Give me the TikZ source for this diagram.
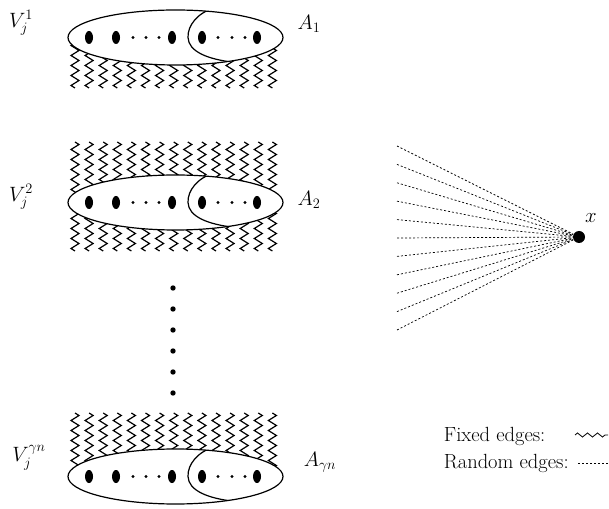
\documentclass[tikz,border=0pt]{standalone}
\usepackage{amsmath}
\usepackage{amssymb}
\usetikzlibrary{decorations.pathmorphing}

\begin{document}
\begin{tikzpicture}[x=1pt,y=1pt,line width=1.2pt,
  every node/.style={font=\fontsize{20.5}{25}\selectfont},
  fixed/.style={decorate,decoration={zigzag,segment length=10pt,amplitude=4pt},line width=1.2pt},
  fixedleg/.style={decorate,decoration={zigzag,segment length=10pt,amplitude=2pt},line width=0.8pt},
  random/.style={dash pattern=on 2pt off 2pt,line width=0.7pt}]
\useasboundingbox (0,0) rectangle (609,508);
\foreach \cy/\lo/\hi in {470.5/50.5/0,305.5/48.5/60.5,31.5/0/63.5}{
  \begin{scope}[shift={(175.5,\cy)}]
    \foreach \k in {0,...,14}{
      \draw[fixed] (-100.5+\k*14.1,-\lo) -- (-100.5+\k*14.1,0);
      \draw[fixed] (-100.5+\k*14.1,\hi) -- (-100.5+\k*14.1,0);
    }
    \filldraw[fill=white] (0,0) ellipse [x radius=107.5,y radius=27.5];
    \begin{scope}
      \clip (0,0) ellipse [x radius=107.5,y radius=27.5];
      \draw (40,30) .. controls (22,25) and (12,12) .. (12.5,0)
        .. controls (13,-14) and (32,-22) .. (60,-25);
    \end{scope}
    \foreach \dx in {-86.5,-59.5,-3.5,26.5,81.5}
      \fill (\dx,0) ellipse [x radius=4,y radius=6.5];
    \foreach \dx in {-42.5,-29.5,-16.5,42.5,56.5,69.5}
      \fill (\dx,0) circle (1.6);
  \end{scope}
}
\foreach \k in {0,...,5}
  \fill (173,220-\k*21) circle (2.7);
\node (V1) at (21,485) {$V_j^1$};
\node (A1) at (309,484) {$A_1$};
\node (V2) at (21,311) {$V_j^2$};
\node (A2) at (309,308) {$A_2$};
\node (V3) at (29,50) {$V_j^{\gamma n}$};
\node (A3) at (320,46) {$A_{\gamma n}$};
\node[circle,fill,inner sep=0pt,minimum size=12pt] (x) at (579,271) {};
\node (xlab) at (591,290) {$x$};
\foreach \i in {0,...,10}{
  \coordinate (f\i) at (397,{362-\i*18.4});
  \draw[random] (f\i) -- (x);
}
\node[anchor=base west] (fixedlab) at (440,67) {Fixed edges:};
\node[anchor=base west] (randlab) at (440,40) {Random edges:};
\draw[fixedleg] (575,73) -- (608,73);
\draw[random] (578,45) -- (608,45);
\end{tikzpicture}
\end{document}
